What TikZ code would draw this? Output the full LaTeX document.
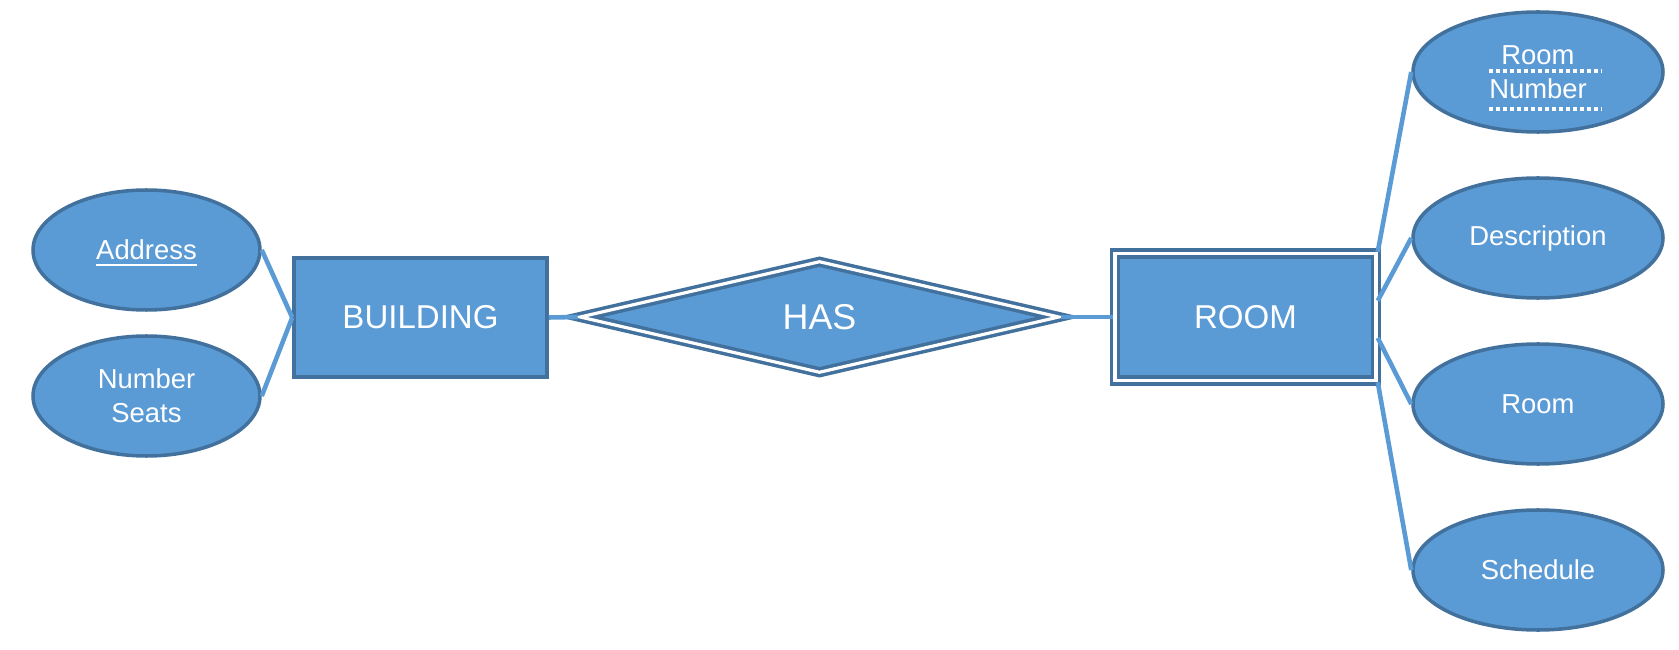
\documentclass[tikz,border=0pt]{standalone}
\usepackage{fontspec}
\setmainfont{Liberation Sans}
\usetikzlibrary{shapes.geometric}

\definecolor{erfill}{HTML}{5B9BD5}
\definecolor{erline}{HTML}{41719C}

\begin{document}
\begin{tikzpicture}[
  attr/.style={ellipse,draw=erline,fill=erfill,line width=1pt,text=white,inner sep=0pt,
    minimum width=2.5cm,minimum height=1.2cm,align=center,font=\fontsize{7.8}{9.7}\selectfont},
  entity/.style={rectangle,draw=erline,fill=erfill,line width=1pt,text=white,
    minimum width=2.53cm,minimum height=1.19cm,font=\fontsize{9.4}{11}\selectfont},
  weak/.style={entity,double=white,double distance=0.9pt,minimum width=2.61cm,minimum height=1.27cm},
  rel/.style={diamond,draw=erline,fill=erfill,line width=1pt,double=white,double distance=0.9pt,
    text=white,inner sep=0pt,minimum width=4.8cm,minimum height=1.12cm,font=\fontsize{10.2}{12}\selectfont},
  link/.style={draw=erfill,line width=1.3pt},
  keyline/.style={white,line width=1.1pt,dash pattern=on 1.1pt off 0.9pt}
]
\useasboundingbox (0,0) rectangle (16.79,6.49);

\node[attr,minimum width=2.27cm,text depth=0pt] (address) at (1.465,3.99) {\underline{Address}};
\node[attr,minimum width=2.27cm] (seats) at (1.465,2.53) {Number\\Seats};
\node[entity] (building) at (4.205,3.315) {BUILDING};
\node[rel] (has) at (8.195,3.32) {HAS};
\node[weak] (room) at (12.455,3.32) {ROOM};
\node[attr] (roomno) at (15.38,5.77) {Room\\Number};
\node[attr] (descr) at (15.38,4.11) {Description};
\node[attr] (roomattr) at (15.38,2.45) {Room};
\node[attr] (sched) at (15.38,0.79) {Schedule};

\draw[link] (address.east) -- (building.west);
\draw[link] (seats.east) -- (building.west);
\draw[link] (building.east) -- (has.west);
\draw[link] (has.east) -- (room.west);
\draw[link] (room.north east) -- (roomno.west);
\draw[link] (room.7) -- (descr.west);
\draw[link] (room.-9) -- (roomattr.west);
\draw[link] (room.south east) -- (sched.west);

\draw[keyline,shift={(roomno.center)}] (-0.49,0.01) -- (0.64,0.01);
\draw[keyline,shift={(roomno.center)}] (-0.49,-0.37) -- (0.64,-0.37);
\end{tikzpicture}
\end{document}
